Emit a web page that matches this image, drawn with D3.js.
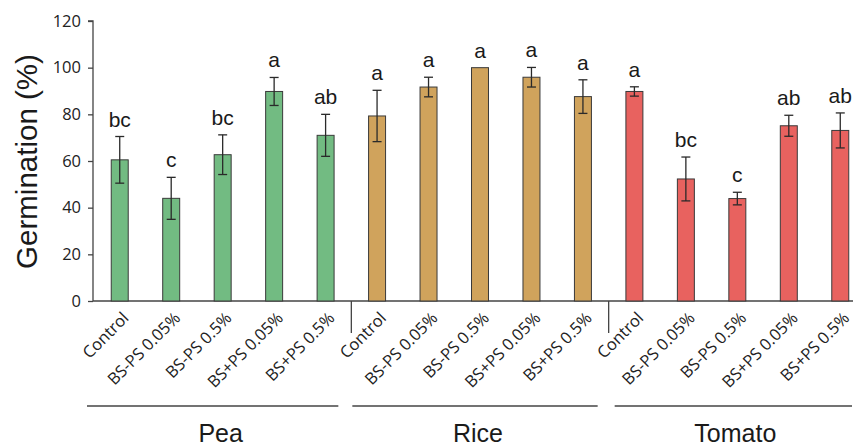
<!DOCTYPE html>
<html><head><meta charset="utf-8">
<script src="https://cdn.jsdelivr.net/npm/d3@7/dist/d3.min.js"></script>
<style>body{margin:0;background:#fff}svg{display:block}</style>
</head><body><svg id="c" width="853" height="446"></svg>
<script>
const groups = ["Pea", "Rice", "Tomato"];
const treatments = ["Control", "BS-PS 0.05%", "BS-PS 0.5%", "BS+PS 0.05%", "BS+PS 0.5%"];
const peaMean = [60.5, 44, 62.7, 89.8, 71];
const peaErr = [10, 9, 8.5, 6, 9];
const peaLetters = ["bc", "c", "bc", "a", "ab"];
const riceMean = [79.3, 91.7, 100, 95.9, 87.6];
const riceErr = [11, 4.2, 0, 4.2, 7.2];
const riceLetters = ["a", "a", "a", "a", "a"];
const tomatoMean = [89.8, 52.3, 43.9, 75.1, 73.1];
const tomatoErr = [2, 9.4, 2.7, 4.5, 7.5];
const tomatoLetters = ["a", "bc", "c", "ab", "ab"];
const yTicks = [0, 20, 40, 60, 80, 100, 120];
const colors = {Pea: "#72bb82", Rice: "#d0a35c", Tomato: "#e8625f"};

const means = {Pea: peaMean, Rice: riceMean, Tomato: tomatoMean};
const errs = {Pea: peaErr, Rice: riceErr, Tomato: tomatoErr};
const lets = {Pea: peaLetters, Rice: riceLetters, Tomato: tomatoLetters};
const data = [];
groups.forEach(g => treatments.forEach((t, i) => data.push({g, t, key: g + "|" + t, v: means[g][i], e: errs[g][i], l: lets[g][i]})));

const svg = d3.select("#c");
const x = d3.scaleBand().domain(data.map(d => d.key)).range([94, 866]).paddingInner(0.67).paddingOuter(0.335);
const y = d3.scaleLinear().domain([0, 120]).range([301, 21]);
const axisX0 = 93;

// y axis
const ya = svg.append("g").attr("transform", `translate(${axisX0},0)`)
  .call(d3.axisLeft(y).tickValues(yTicks).tickSize(5).tickPadding(7));
ya.select(".domain").attr("stroke", "#444").attr("stroke-width", 1.3).attr("d", `M-5,${y(120)}H0V${y(0)}`);
ya.selectAll(".tick line").attr("stroke", "#444").attr("stroke-width", 1.3);
ya.selectAll(".tick text").attr("font-family", "Open Sans").attr("font-size", 16.5).attr("fill", "#222");

// x axis line
svg.append("line").attr("x1", axisX0).attr("x2", 853).attr("y1", y(0)).attr("y2", y(0)).attr("stroke", "#444").attr("stroke-width", 1.3);

// group separators
const step = x.step();
const gStart = g => x(g + "|" + treatments[0]) - (step - x.bandwidth()) / 2;
[1, 2].forEach(i => {
  const sx = gStart(groups[i]);
  svg.append("line").attr("x1", sx).attr("x2", sx).attr("y1", y(0)).attr("y2", 333).attr("stroke", "#444").attr("stroke-width", 1.3);
});

// bars
svg.append("g").selectAll("rect").data(data).join("rect")
  .attr("x", d => x(d.key)).attr("width", x.bandwidth())
  .attr("y", d => y(d.v)).attr("height", d => y(0) - y(d.v))
  .attr("fill", d => colors[d.g]).attr("stroke", "#3a3a3a").attr("stroke-width", 1);

// error bars
const eb = svg.append("g").attr("stroke", "#2a2a2a").attr("stroke-width", 1.3);
data.filter(d => d.e > 0).forEach(d => {
  const cx = x(d.key) + x.bandwidth() / 2;
  eb.append("line").attr("x1", cx).attr("x2", cx).attr("y1", y(d.v + d.e)).attr("y2", y(d.v - d.e));
  [d.v + d.e, d.v - d.e].forEach(v => eb.append("line").attr("x1", cx - 4.5).attr("x2", cx + 4.5).attr("y1", y(v)).attr("y2", y(v)));
});

// letters
svg.append("g").selectAll("text").data(data).join("text")
  .attr("x", d => x(d.key) + x.bandwidth() / 2).attr("y", d => y(d.v + d.e) - 10)
  .attr("text-anchor", "middle").attr("font-family", "Liberation Sans, Arial").attr("font-size", 21).attr("fill", "#1a1a1a")
  .text(d => d.l);

// x tick labels
svg.append("g").selectAll("text").data(data).join("text")
  .attr("transform", d => `translate(${x(d.key) + x.bandwidth() / 2 + 6},${315}) rotate(-45)`)
  .attr("text-anchor", "end").attr("dy", "0.35em")
  .attr("font-family", "Open Sans").attr("font-size", 16.5).attr("fill", "#222")
  .text(d => d.t);

// group lines and labels
const lineExt = {Pea: [-7, -13], Rice: [1, -11], Tomato: [6, -14]};
groups.forEach((g, i) => {
  const s = gStart(g), e = s + step * 5;
  svg.append("line").attr("x1", s + lineExt[g][0]).attr("x2", Math.min(e + lineExt[g][1], 852)).attr("y1", 406).attr("y2", 406)
    .attr("stroke", "#444").attr("stroke-width", 1.3);
  const mid = x(g + "|" + treatments[2]) + x.bandwidth() / 2;
  svg.append("text").attr("x", mid - 2).attr("y", 442).attr("text-anchor", "middle")
    .attr("font-family", "Liberation Sans, Arial").attr("font-size", 25).attr("fill", "#1a1a1a").text(g);
});

// y title
svg.append("text").attr("transform", `translate(37,161.5) rotate(-90)`).attr("text-anchor", "middle")
  .attr("font-family", "Liberation Sans, Arial").attr("font-size", 29.5).attr("fill", "#1a1a1a").text("Germination (%)");
</script></body></html>
